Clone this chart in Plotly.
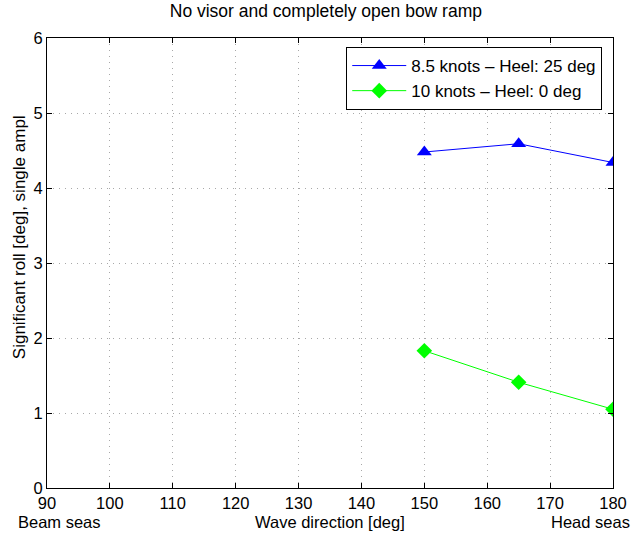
import plotly.graph_objects as go

# Wave direction [deg] and significant roll [deg] for the two load cases
wave_dir = [150, 165, 180]
roll_85kn_heel25 = [4.48, 4.59, 4.34]
roll_10kn_heel0 = [1.83, 1.41, 1.05]

x_ticks = [90, 100, 110, 120, 130, 140, 150, 160, 170, 180]
y_ticks = [0, 1, 2, 3, 4, 5, 6]

family = "Liberation Sans, Arial, sans-serif"
tick_font = dict(family=family, size=16.5, color="black")
label_font = dict(family=family, size=16.5, color="black")

fig = go.Figure()
fig.add_trace(go.Scatter(
    x=wave_dir, y=roll_85kn_heel25, mode="lines+markers",
    name="8.5 knots \u2013 Heel: 25 deg",
    line=dict(color="#0000ff", width=1),
    marker=dict(symbol="triangle-up", size=13, color="#0000ff"),
))
fig.add_trace(go.Scatter(
    x=wave_dir, y=roll_10kn_heel0, mode="lines+markers",
    name="10 knots \u2013 Heel: 0 deg",
    line=dict(color="#00ff00", width=1),
    marker=dict(symbol="diamond", size=12, color="#00ff00"),
))

axis_common = dict(
    showgrid=True, gridcolor="#a8a8a8", griddash="1px,5px", gridwidth=1,
    showline=True, linecolor="black", linewidth=1, mirror="ticks",
    ticks="inside", ticklen=5, tickcolor="black",
    zeroline=False, tickfont=tick_font,
)

fig.update_layout(
    width=639, height=534,
    margin=dict(l=47, r=20, t=38, b=46),
    paper_bgcolor="white", plot_bgcolor="white",
    font=tick_font,
    title=dict(text="No visor and completely open bow ramp", x=0.51, xanchor="center",
               y=0.992, yanchor="top", font=dict(family=family, size=17.5)),
    xaxis=dict(range=[90, 180], tickvals=x_ticks, ticklabelstandoff=0, **axis_common),
    yaxis=dict(range=[0, 6], tickvals=y_ticks, ticklabelstandoff=0, **axis_common),
    legend=dict(x=0.981, y=0.98, xanchor="right", yanchor="top",
                bgcolor="white", bordercolor="black", borderwidth=1,
                font=dict(family=family, size=17), itemwidth=54, tracegroupgap=0),
    showlegend=True,
)

# Axis labels
fig.add_annotation(text="Significant roll [deg], single ampl", xref="paper", yref="paper",
                   x=-0.048, y=0.557, xanchor="center", yanchor="middle", textangle=-90,
                   showarrow=False, font=dict(family=family, size=17, color="black"))
for text, x, anchor in [("Beam seas", -0.055, "left"),
                        ("Wave direction [deg]", 0.5, "center"),
                        ("Head seas", 1.033, "right")]:
    fig.add_annotation(text=text, xref="paper", yref="paper", x=x, y=-0.05,
                       xanchor=anchor, yanchor="top", showarrow=False, font=label_font)

fig.write_html("out.html")
